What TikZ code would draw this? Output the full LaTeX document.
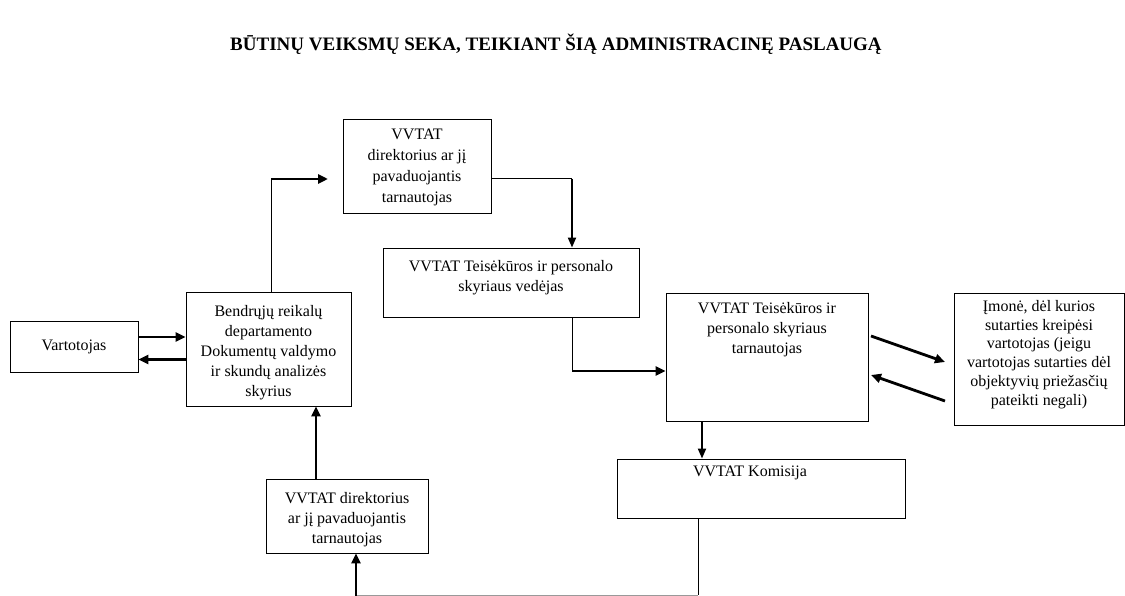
\documentclass[tikz,border=0pt]{standalone}
\usepackage{fontspec}
\setmainfont{Liberation Serif}
\usetikzlibrary{arrows.meta}
\begin{document}
\begin{tikzpicture}[x=1pt,y=-1pt,
  box/.style={draw, line width=0.9pt, inner sep=0pt},
  txt/.style={align=center, font=\fontsize{16}{20}\selectfont, inner sep=0pt},
  thinln/.style={line width=1pt},
  heavy/.style={line width=2.8pt, -{Triangle[length=10pt,width=9pt]}},
  mid/.style={line width=2pt, -{Triangle[length=10pt,width=8pt]}},
]
\useasboundingbox (0,0) rectangle (1125,596);

% title
\node[anchor=base, font=\fontsize{19}{22}\selectfont\bfseries] (title) at (556,51)
  {BŪTINŲ VEIKSMŲ SEKA, TEIKIANT ŠIĄ ADMINISTRACINĘ PASLAUGĄ};

% boxes
\node[box, minimum width=148, minimum height=94] (dir1) at (417,166) {};
\node[txt, anchor=north, font=\fontsize{16}{21}\selectfont] (dir1t) at (417,129) {VVTAT\\direktorius ar jį\\pavaduojantis\\tarnautojas};

\node[box, minimum width=256, minimum height=69] (ved) at (511,282.5) {};
\node[txt, anchor=north] (vedt) at (511,260) {VVTAT Teisėkūros ir personalo\\skyriaus vedėjas};

\node[box, minimum width=202, minimum height=128] (tarn) at (767,357) {};
\node[txt, anchor=north] (tarnt) at (767,302) {VVTAT Teisėkūros ir\\personalo skyriaus\\tarnautojas};

\node[box, minimum width=170, minimum height=132] (imone) at (1039,359) {};
\node[txt, anchor=north, font=\fontsize{16}{18.8}\selectfont] (imonet) at (1039,300) {Įmonė, dėl kurios\\sutarties kreipėsi\\vartotojas (jeigu\\vartotojas sutarties dėl\\objektyvių priežasčių\\pateikti negali)};

\node[box, minimum width=288, minimum height=59] (kom) at (761,488.5) {};
\node[txt, anchor=north] (komt) at (750,466) {VVTAT Komisija};

\node[box, minimum width=128, minimum height=51] (vart) at (74,346.5) {};
\node[txt] (vartt) at (74,346.5) {Vartotojas};

\node[box, minimum width=165, minimum height=114] (bend) at (268.5,349) {};
\node[txt, anchor=north] (bendt) at (268.5,305) {Bendrųjų reikalų\\departamento\\Dokumentų valdymo\\ir skundų analizės\\skyrius};

\node[box, minimum width=162, minimum height=74] (dir2) at (347,516) {};
\node[txt, anchor=north] (dir2t) at (347,492) {VVTAT direktorius\\ar jį pavaduojantis\\tarnautojas};

% connectors
\coordinate (c1) at (271,179);
\coordinate (e1) at (328,179);
\draw[thinln] ([xshift=2.5pt]bend.north) -- (c1);
\draw[heavy] (c1) -- (e1);

\coordinate (c2) at (572,179);
\draw[thinln] ([yshift=-13pt]dir1.east) -- (c2);
\draw[mid] (c2) -- ([xshift=61pt]ved.north);

\coordinate (c3) at (572,371);
\draw[thinln] ([xshift=61pt]ved.south) -- (c3);
\draw[heavy] (c3) -- ([yshift=-14pt]tarn.west);

\draw[mid] ([xshift=-65pt]tarn.south) -- ([xshift=-65pt]tarn.south |- kom.north);

\coordinate (i1) at (871,336);
\coordinate (i2) at (945,362);
\coordinate (i3) at (945,401);
\coordinate (i4) at (871,375);
\draw[heavy] (i1) -- (i2);
\draw[heavy] (i3) -- (i4);

\draw[heavy] ([yshift=9.5pt]vart.east) -- ([yshift=9.5pt]vart.east -| bend.west);
\draw[heavy] ([yshift=-10.5pt]bend.west) -- ([yshift=-10.5pt]bend.west -| vart.east);

\draw[heavy] ([xshift=-31pt]dir2.north) -- ([xshift=-31pt]dir2.north |- bend.south);

\coordinate (b1) at (698,595);
\coordinate (b2) at (356,595);
\draw[thinln] ([xshift=-63pt]kom.south) -- (b1);
\draw[line width=0.6pt, black!40] (b1) -- (b2);
\draw[heavy] (356,596) -- (dir2.south -| b2);
\end{tikzpicture}
\end{document}
